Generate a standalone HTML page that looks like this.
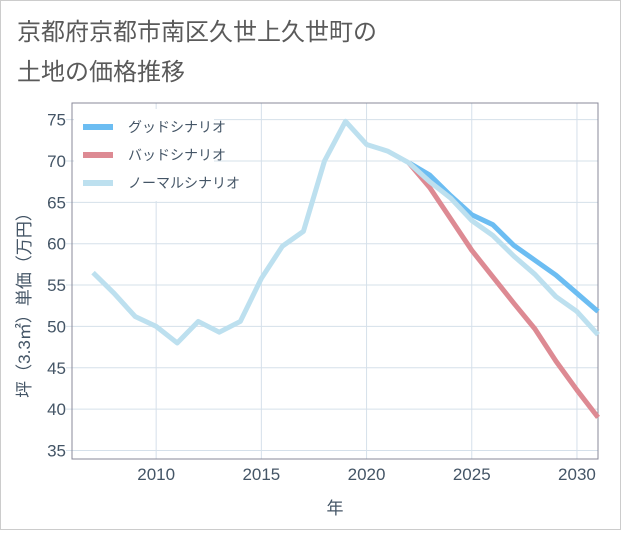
<!DOCTYPE html>
<html><head><meta charset="utf-8"><style>
body{margin:0;background:#fff;font-family:"Liberation Sans","Noto Sans CJK JP",sans-serif;}
#wrap{position:relative;width:619px;height:528px;border:1px solid #ccc;background:#fff;}
</style></head><body>
<div id="wrap">
<svg id="c" width="619" height="528">
<text x="16" y="39" font-size="24" fill="#5a5a5a">京都府京都市南区久世上久世町の</text>
<text x="16" y="79" font-size="24" fill="#5a5a5a">土地の価格推移</text>
</svg></div>
<script>
const years=[2007,2008,2009,2010,2011,2012,2013,2014,2015,2016,2017,2018,2019,2020,2021,2022,2023,2024,2025,2026,2027,2028,2029,2030,2031];
const normal=[56.5,54,51.2,50,48,50.6,49.3,50.6,55.8,59.7,61.5,70,74.8,72,71.2,69.8,67.5,65.5,62.8,61,58.5,56.3,53.6,51.8,49];
const goodYears=[2022,2023,2024,2025,2026,2027,2028,2029,2030,2031];
const good=[69.8,68.3,65.8,63.5,62.3,59.8,58,56.2,54,51.8];
const bad=[69.8,66.8,63,59.2,56,52.8,49.7,45.8,42.3,39];
const xTicks=[2010,2015,2020,2025,2030];
const yTicks=[35,40,45,50,55,60,65,70,75];
const NS="http://www.w3.org/2000/svg";
const svg=document.getElementById('c');
const L=71,R=597,T=102,B=458;
const x=v=>L+(v-2006)*(R-L)/25;
const y=v=>160-(v-70)*8.27;
function mk(t,a){const e=document.createElementNS(NS,t);for(const k in a)e.setAttribute(k,a[k]);svg.appendChild(e);return e;}
for(const t of xTicks){const g=mk('line',{x1:x(t),x2:x(t),y1:T,y2:B,stroke:'#d5e0ea'});


const tx=mk('text',{x:x(t),y:B+21,'text-anchor':'middle','font-size':17,fill:'#445566'});tx.textContent=t;

}
for(const t of yTicks){const g=mk('line',{x1:L-6,x2:R,y1:y(t),y2:y(t),stroke:'#d5e0ea'});


const tx=mk('text',{x:L-6,y:y(t)+6,'text-anchor':'end','font-size':17,fill:'#445566'});tx.textContent=t;

}
const fr=mk('rect',{x:L,y:T,width:R-L,height:B-T,fill:'none',stroke:'#889'});


function line(xs,vs,col,name){const p=mk('polyline',{points:xs.map((v,i)=>x(v)+','+y(vs[i])).join(' '),fill:'none',stroke:col,'stroke-width':5,'stroke-linejoin':'round'});

}
line(goodYears,good,'#6cbdf2','good-scenario-line');
line(goodYears,bad,'#dd8a93','bad-scenario-line');
line(years,normal,'#bde0ef','normal-scenario-line');
const lb=mk('rect',{x:L+2,y:108,width:140,height:92,fill:'#fff'});


[['グッドシナリオ','#6cbdf2',126],['バッドシナリオ','#dd8a93',154],['ノーマルシナリオ','#bde0ef',182]].forEach(([n,c,yy])=>{
const s=mk('line',{x1:82,x2:112,y1:yy,y2:yy,stroke:c,'stroke-width':6});


const t=mk('text',{x:127,y:yy+5,'font-size':14,fill:'#445566'});t.textContent=n;

});
const xt=mk('text',{x:334,y:513,'text-anchor':'middle','font-size':17,fill:'#445566'});xt.textContent='年';


const yt=mk('text',{x:0,y:0,'text-anchor':'middle','font-size':17,fill:'#445566',transform:'translate(29,300) rotate(-90)'});yt.textContent='坪（3.3㎡）単価（万円）';


</script></body></html>
